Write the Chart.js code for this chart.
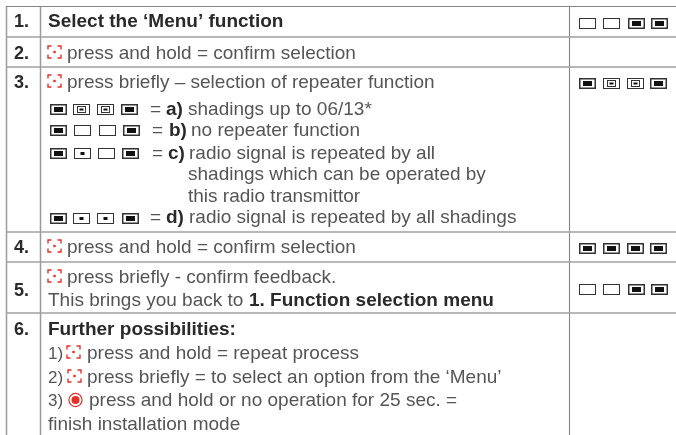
<!DOCTYPE html>
<html>
<head>
<meta charset="utf-8">
<title>Function selection menu</title>
<script src="https://cdn.jsdelivr.net/npm/chart.js@4"></script>
<style>
  html, body { margin: 0; padding: 0; background: #fff; }
  canvas { display: block; filter: blur(0.35px); }
</style>
</head>
<body>
<canvas id="myChart" width="676" height="435"></canvas>
<script>
// table rules
const rowRules = [6.5, 37, 67, 232, 262, 313];
const colRules = [6.5, 40.5, 569.5];

// step numbers
const stepLabels = ["1.", "2.", "3.", "4.", "5.", "6."];
const stepY = [27, 59, 88, 253, 296, 335];

// every piece of text
const lineText = [
  "Select the ‘Menu’ function",
  "press and hold = confirm selection",
  "press briefly – selection of repeater function",
  "=", "a)", "shadings up to 06/13*",
  "=", "b)", "no repeater function",
  "=", "c)", "radio signal is repeated by all",
  "shadings which can be operated by",
  "this radio transmittor",
  "=", "d)", "radio signal is repeated by all shadings",
  "press and hold = confirm selection",
  "press briefly - confirm feedback.",
  "This brings you back to", "1. Function selection menu",
  "Further possibilities:",
  "1)", "press and hold = repeat process",
  "2)", "press briefly = to select an option from the ‘Menu’",
  "3)", "press and hold or no operation for 25 sec. =",
  "finish installation mode"
];
const lineX = [48, 67, 67, 150, 166, 188, 152, 169, 191, 152, 168, 189, 188, 188, 150, 166, 189,
  67, 67, 48, 249, 48, 48, 87, 48, 87, 48, 89, 48];
const lineY = [27, 59, 88, 115, 115, 115, 136, 136, 136, 159, 159, 159, 180, 202, 223, 223, 223,
  253, 283, 306, 306, 335, 359, 359, 383, 383, 406, 406, 430];
const boldLines = ["Select the ‘Menu’ function", "a)", "b)", "c)", "d)", "1. Function selection menu", "Further possibilities:"];
const shortLines = ["1)", "2)", "3)"];

// LED states, four per group
const ledStates = [
  ["off", "off", "on", "on"],
  ["on", "ring", "ring", "on"],
  ["on", "ring", "ring", "on"],
  ["on", "off", "off", "on"],
  ["on", "dot", "off", "on"],
  ["on", "dot", "dot", "on"],
  ["on", "on", "on", "on"],
  ["off", "off", "on", "on"]
];
const ledX = [
  [579, 603, 628, 651],
  [579, 603, 627, 650],
  [50, 73, 97, 121],
  [50, 74, 99, 123],
  [50, 74, 98, 122],
  [50, 73, 97, 122],
  [579, 603, 627, 650],
  [579, 603, 628, 651]
];
const ledY = [18, 78, 104, 125, 148, 213, 243, 284];

// red buttons
const pressX = [48, 48, 48, 48, 67, 68];
const pressY = [46, 75, 240, 270, 346, 370];
const targetX = [75.5];
const targetY = [400];

const TEXT = "#555555";
const DARK = "#2a2a2a";
const RED = "#e4322b";
const FONT = '"Liberation Sans", sans-serif';

function led(ctx, x, y, state) {
  const w = 16, h = 10;
  ctx.strokeStyle = "#333";
  ctx.fillStyle = "#111";
  ctx.lineWidth = 1;
  ctx.strokeRect(x + 0.5, y + 0.5, w, h);
  if (state == "on") {
    ctx.strokeRect(x + 1, y + 1, w - 1, h - 1);
    ctx.fillRect(x + 4, y + 3, w - 7, h - 5);
  }
  if (state == "ring") {
    ctx.strokeRect(x + 4.5, y + 2.5, w - 8, h - 4);
    ctx.fillRect(x + 6.5, y + 4.5, w - 12, h - 8);
  }
  if (state == "dot") {
    ctx.fillRect(x + 6.5, y + 4, w - 12, h - 7);
  }
}

function pressIcon(ctx, x, y) {
  const w = 13, h = 12, c = 3.5;
  ctx.strokeStyle = RED;
  ctx.fillStyle = RED;
  ctx.lineWidth = 1.4;
  ctx.beginPath();
  ctx.moveTo(x, y + c); ctx.lineTo(x, y); ctx.lineTo(x + c, y);
  ctx.moveTo(x + w - c, y); ctx.lineTo(x + w, y); ctx.lineTo(x + w, y + c);
  ctx.moveTo(x + w, y + h - c); ctx.lineTo(x + w, y + h); ctx.lineTo(x + w - c, y + h);
  ctx.moveTo(x + c, y + h); ctx.lineTo(x, y + h); ctx.lineTo(x, y + h - c);
  ctx.stroke();
  ctx.fillRect(x + w / 2 - 1.2, y + h / 2 - 1.2, 2.4, 2.4);
}

function targetIcon(ctx, x, y) {
  ctx.strokeStyle = RED;
  ctx.fillStyle = RED;
  ctx.lineWidth = 1.2;
  ctx.beginPath();
  ctx.arc(x, y, 6.6, 0, Math.PI * 2);
  ctx.stroke();
  ctx.beginPath();
  ctx.arc(x, y, 4, 0, Math.PI * 2);
  ctx.fill();
}

// draws the text and icons on top of the rules
const tablePlugin = {
  id: "table",
  afterDatasetsDraw(chart) {
    const ctx = chart.ctx;
    const sx = chart.scales.x;
    const sy = chart.scales.y;
    ctx.save();
    ctx.textBaseline = "alphabetic";
    ctx.textAlign = "left";

    ctx.font = "bold 18px " + FONT;
    ctx.fillStyle = DARK;
    stepLabels.forEach((label, i) => {
      ctx.fillText(label, sx.getPixelForValue(14), sy.getPixelForValue(stepY[i]));
    });

    lineText.forEach((text, i) => {
      const bold = boldLines.includes(text);
      // the numbered options sit tight against their icons
      const size = shortLines.includes(text) ? "17px " : "19px ";
      ctx.font = (bold ? "bold " : "") + size + FONT;
      ctx.fillStyle = bold ? DARK : TEXT;
      ctx.fillText(text, sx.getPixelForValue(lineX[i]), sy.getPixelForValue(lineY[i]));
    });

    ledStates.forEach((group, i) => {
      group.forEach((state, j) => {
        led(ctx, sx.getPixelForValue(ledX[i][j]), sy.getPixelForValue(ledY[i]), state);
      });
    });

    pressX.forEach((x, i) => {
      pressIcon(ctx, sx.getPixelForValue(x), sy.getPixelForValue(pressY[i]));
    });
    targetX.forEach((x, i) => {
      targetIcon(ctx, sx.getPixelForValue(x), sy.getPixelForValue(targetY[i]));
    });
    ctx.restore();
  }
};

const ruleSets = [
  ...rowRules.map((y, i) => ({
    data: [{ x: 6, y: y }, { x: 676, y: y }],
    borderColor: i == 0 ? "#858585" : "#a0a0a0",
    borderWidth: i == 0 ? 1.2 : 1.6
  })),
  ...colRules.map((x, i) => ({
    data: [{ x: x, y: 6 }, { x: x, y: 435 }],
    borderColor: i == 2 ? "#858585" : "#9a9a9a",
    borderWidth: i == 2 ? 1.1 : 1.5
  }))
];

const ctx = document.getElementById("myChart");
const myChart = new Chart(ctx, {
  type: "scatter",
  data: {
    datasets: ruleSets.map((set) => ({ ...set, showLine: true, pointRadius: 0 }))
  },
  options: {
    responsive: false,
    animation: false,
    layout: { padding: 0 },
    scales: {
      x: { type: "linear", min: 0, max: 676, display: false },
      y: { type: "linear", min: 0, max: 435, reverse: true, display: false }
    },
    plugins: {
      legend: { display: false },
      tooltip: { enabled: false }
    }
  },
  plugins: [tablePlugin]
});
</script>
</body>
</html>
